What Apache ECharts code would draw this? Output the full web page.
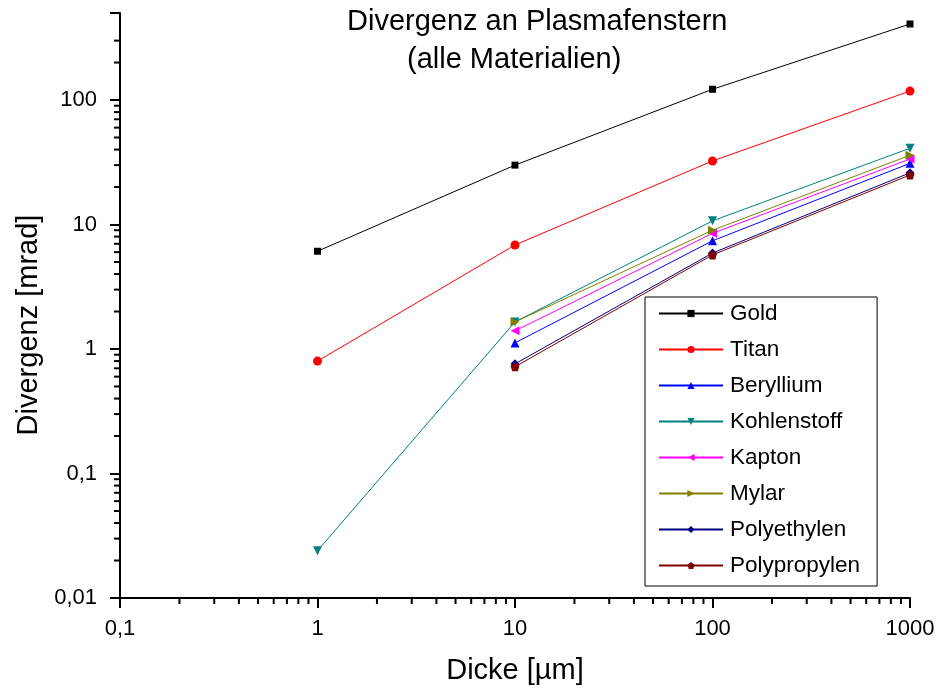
<!DOCTYPE html>
<html>
<head>
<meta charset="utf-8">
<script src="https://cdn.jsdelivr.net/npm/echarts@6/dist/echarts.min.js"></script>
<style>
  html, body { margin: 0; padding: 0; background: #fff; }
  #chart { width: 939px; height: 691px; }
</style>
</head>
<body>
<div id="chart"></div>
<script>
// thickness in µm
const thickness = [1, 10, 100, 1000];

const seriesNames = ['Gold', 'Titan', 'Beryllium', 'Kohlenstoff', 'Kapton', 'Mylar', 'Polyethylen', 'Polypropylen'];

// divergence in mrad (null = no value at that thickness)
const gold = [6.1, 30, 122, 408];
const titan = [0.8, 6.85, 32.4, 118];
const beryllium = [null, 1.12, 7.4, 31];
const kohlenstoff = [0.024, 1.65, 10.7, 41];
const kapton = [null, 1.4, 8.5, 33.6];
const mylar = [null, 1.65, 9.0, 36];
const polyethylen = [null, 0.76, 5.9, 26];
const polypropylen = [null, 0.72, 5.7, 25];

const xTickLabels = { 0.1: '0,1', 1: '1', 10: '10', 100: '100', 1000: '1000' };
const yTickLabels = { 0.01: '0,01', 0.1: '0,1', 1: '1', 10: '10', 100: '100' };

// minor ticks (Origin style 2..9 per decade)
const xMinor = [0.2, 0.3, 0.4, 0.5, 0.6, 0.7, 0.8, 0.9, 2, 3, 4, 5, 6, 7, 8, 9,
  20, 30, 40, 50, 60, 70, 80, 90, 200, 300, 400, 500, 600, 700, 800, 900];
const yMinor = [0.02, 0.03, 0.04, 0.05, 0.06, 0.07, 0.08, 0.09, 0.2, 0.3, 0.4, 0.5, 0.6, 0.7, 0.8, 0.9,
  2, 3, 4, 5, 6, 7, 8, 9, 20, 30, 40, 50, 60, 70, 80, 90, 200, 300];

const values = [gold, titan, beryllium, kohlenstoff, kapton, mylar, polyethylen, polypropylen];
const colors = ['#000000', '#ff0000', '#0000ff', '#008080', '#ff00ff', '#808000', '#000080', '#800000'];
const pentagon = 'path://M0,-10 L9.51,-3.09 L5.88,8.09 L-5.88,8.09 L-9.51,-3.09 Z';
const symbols = ['rect', 'circle', 'triangle', 'triangle', 'triangle', 'triangle', 'diamond', pentagon];
const rotations = [0, 0, 0, 180, 90, -90, 0, 0];

const font = 'Liberation Sans, Arial, sans-serif';

const lineSeries = seriesNames.map((name, i) => ({
  name,
  type: 'line',
  data: thickness.map((x, j) => values[i][j] == null ? null : [x, values[i][j]]).filter(d => d),
  color: colors[i],
  symbol: symbols[i],
  symbolRotate: rotations[i],
  symbolSize: symbols[i] === 'rect' ? 7 : 9,
  lineStyle: { width: 1, color: colors[i] },
  itemStyle: { color: colors[i] },
  clip: false
}));

const tickSeries = (data, vertical) => ({
  type: 'custom',
  silent: true,
  clip: false,
  data,
  renderItem(params, api) {
    const p = api.coord([api.value(0), api.value(1)]);
    const shape = vertical
      ? { x1: p[0], y1: p[1], x2: p[0], y2: p[1] + 6 }
      : { x1: p[0] - 6, y1: p[1], x2: p[0], y2: p[1] };
    return { type: 'line', shape, style: { stroke: '#000', lineWidth: 2 } };
  }
});

const chart = echarts.init(document.getElementById('chart'));
chart.setOption({
  animation: false,
  backgroundColor: '#fff',
  textStyle: { fontFamily: font },
  grid: { left: 120, right: 29, top: 13, bottom: 93 },
  graphic: [
    { type: 'text', left: 347, top: 7, style: { text: 'Divergenz an Plasmafenstern', font: '29px ' + font, fill: '#000' } },
    { type: 'text', left: 407, top: 45, style: { text: '(alle Materialien)', font: '29px ' + font, fill: '#000' } }
  ],
  legend: {
    data: seriesNames,
    orient: 'vertical',
    left: 645,
    top: 297,
    itemWidth: 64,
    itemHeight: 9,
    itemGap: 13,
    padding: [5, 17, 9, 13],
    borderColor: '#000',
    borderWidth: 1,
    backgroundColor: '#fff',
    textStyle: { fontSize: 22.5, color: '#000', fontFamily: font, padding: [0, 0, 0, 2] }
  },
  xAxis: {
    type: 'log',
    logBase: 10,
    min: 0.1,
    max: 1000,
    name: 'Dicke [µm]',
    nameLocation: 'middle',
    nameGap: 58,
    nameTextStyle: { fontSize: 29, color: '#000', fontFamily: font },
    axisLine: { lineStyle: { color: '#000', width: 2 } },
    axisTick: { inside: false, length: 10, lineStyle: { color: '#000', width: 2 } },
    axisLabel: {
      fontSize: 22, color: '#000', margin: 20, fontFamily: font,
      formatter: v => xTickLabels[v] !== undefined ? xTickLabels[v] : ''
    },
    splitLine: { show: false }
  },
  yAxis: {
    type: 'log',
    logBase: 10,
    min: 0.01,
    max: 500,
    name: 'Divergenz [mrad]',
    nameLocation: 'middle',
    nameGap: 75,
    nameTextStyle: { fontSize: 29, color: '#000', fontFamily: font, padding: [0, 39, 0, 0] },
    axisLine: { lineStyle: { color: '#000', width: 2 } },
    axisTick: { inside: false, length: 10, lineStyle: { color: '#000', width: 2 } },
    axisLabel: {
      fontSize: 22, color: '#000', margin: 23, fontFamily: font,
      formatter: v => yTickLabels[v] !== undefined ? yTickLabels[v] : ''
    },
    splitLine: { show: false }
  },
  series: [
    ...lineSeries,
    tickSeries(xMinor.map(v => [v, 0.01]), true),
    tickSeries(yMinor.map(v => [0.1, v]), false)
  ]
});
</script>
</body>
</html>
